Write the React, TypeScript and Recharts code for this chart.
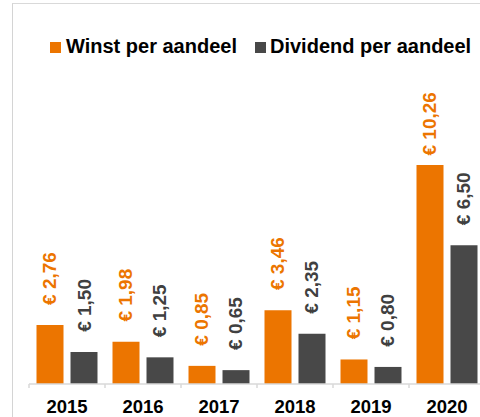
import React from "react";
import { BarChart, Bar, XAxis, YAxis, LabelList } from "recharts";

const years = ["2015", "2016", "2017", "2018", "2019", "2020"];
const winst = [2.76, 1.98, 0.85, 3.46, 1.15, 10.26];
const dividend = [1.5, 1.25, 0.65, 2.35, 0.8, 6.5];
const seriesNames = ["Winst per aandeel", "Dividend per aandeel"];
const seriesColors = ["#EC7500", "#484848"];
const labelColors = ["#EC7500", "#404040"];

const data = years.map((y, i) => ({ year: y, winst: winst[i], dividend: dividend[i] }));

const FONT = "'Liberation Sans', Arial, Helvetica, sans-serif";
const BAND = 76;

const fmt = (v: number) => "€ " + v.toFixed(2).replace(".", ",");

const makeLabel = (color: string) => (props: any) => {
  const { x, y, width, value } = props;
  const cx = x + width / 2;
  const ty = y - 73;
  return (
    <text
      x={cx}
      y={ty}
      dy={6.5}
      transform={`rotate(-90 ${cx} ${ty})`}
      textAnchor="end"
      fill={color}
      fontFamily={FONT}
      fontWeight="bold"
      fontSize={19}
    >
      {fmt(value)}
    </text>
  );
};

const YearTick = (props: any) => {
  const { x, y, payload, index } = props;
  return (
    <g>
      <line x1={x - BAND / 2} x2={x - BAND / 2} y1={y} y2={y + 4} stroke="#D9D9D9" strokeWidth={1.5} />
      {index === years.length - 1 && (
        <line x1={x + BAND / 2} x2={x + BAND / 2} y1={y} y2={y + 4} stroke="#D9D9D9" strokeWidth={1.5} />
      )}
      <text x={x} y={y + 29} textAnchor="middle" fill="#000" fontFamily={FONT} fontWeight="bold" fontSize={18.5}>
        {payload.value}
      </text>
    </g>
  );
};

export default function App() {
  return (
    <div style={{ position: "absolute", left: 0, top: 0, width: 480, height: 417, overflow: "hidden", background: "#fff" }}>
      <div
        style={{
          position: "absolute",
          left: 12,
          top: 3,
          width: 600,
          height: 600,
          borderLeft: "1px solid #D4D4D4",
          borderTop: "1.5px solid #D9D9D9",
        }}
      />
      <svg width={480} height={70} style={{ position: "absolute", left: 0, top: 0 }}>
        <rect x={50} y={42} width={11} height={11} fill={seriesColors[0]} />
        <text x={66} y={53} fontFamily={FONT} fontWeight="bold" fontSize={20} fill="#000">
          {seriesNames[0]}
        </text>
        <rect x={255} y={42} width={11} height={11} fill={seriesColors[1]} />
        <text x={270} y={53} fontFamily={FONT} fontWeight="bold" fontSize={20} fill="#000">
          {seriesNames[1]}
        </text>
      </svg>
      <div style={{ position: "absolute", left: 0, top: 0 }}>
        <BarChart
          width={500}
          height={417}
          data={data}
          margin={{ top: 128, right: 15, left: 29, bottom: 0 }}
          barCategoryGap={7.5}
          barGap={7}
        >
          <XAxis
            dataKey="year"
            height={33}
            axisLine={{ stroke: "#D9D9D9", strokeWidth: 1.5 }}
            tickLine={false}
            tickSize={0}
            tickMargin={0}
            tick={<YearTick />}
            interval={0}
          />
          <YAxis hide domain={[0, 12]} />
          <Bar dataKey="winst" name={seriesNames[0]} fill={seriesColors[0]} isAnimationActive={false}>
            <LabelList dataKey="winst" content={makeLabel(labelColors[0])} />
          </Bar>
          <Bar dataKey="dividend" name={seriesNames[1]} fill={seriesColors[1]} isAnimationActive={false}>
            <LabelList dataKey="dividend" content={makeLabel(labelColors[1])} />
          </Bar>
        </BarChart>
      </div>
    </div>
  );
}
